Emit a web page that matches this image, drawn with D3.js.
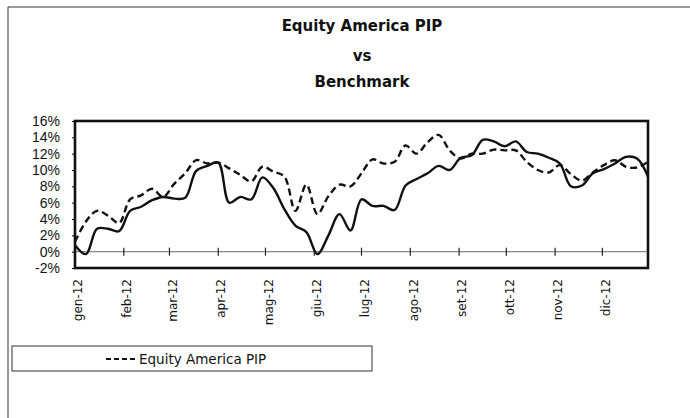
<!DOCTYPE html>
<html>
<head>
<meta charset="utf-8">
<script src="https://cdn.jsdelivr.net/npm/d3@7"></script>
<style>
  body { margin: 0; background: #fff; }
  text { fill: #111; }
</style>
</head>
<body>
<script>
// Weekly values, %
const fundValues = [
    1.2, 3.7, 5.0, 4.4, 3.5, 6.4, 6.9, 7.7, 6.7, 8.3,
    9.6, 11.2, 10.8, 10.9, 10.2, 9.4, 8.6, 10.4, 9.8, 9.2,
    5.0, 8.2, 4.6, 6.8, 8.2, 8.0, 9.6, 11.3, 10.8, 11.0,
    13.0, 12.0, 13.4, 14.3, 12.4, 11.4, 12.0, 12.0, 12.5, 12.4,
    12.4, 11.0, 10.0, 9.7, 10.6, 9.5, 8.7, 9.7, 10.6, 11.2,
    10.4, 10.3, 11.0
];
const benchValues = [
    0.8, -0.3, 2.8, 2.8, 2.5, 5.0, 5.5, 6.3, 6.7, 6.5,
    6.6, 9.9, 10.5, 10.9, 6.0, 6.7, 6.4, 9.1, 7.8, 5.2,
    3.2, 2.4, -0.3, 2.0, 4.6, 2.6, 6.4, 5.6, 5.6, 5.1,
    8.1, 8.9, 9.6, 10.5, 10.0, 11.5, 11.8, 13.7, 13.5, 12.9,
    13.5, 12.2, 12.0, 11.5, 10.8, 8.0, 8.1, 9.6, 10.1, 10.8,
    11.6, 11.4, 9.2
];
const monthLabels = ['gen', 'feb', 'mar', 'apr', 'mag', 'giu', 'lug', 'ago', 'set', 'ott', 'nov', 'dic'];
const yTicks = [-2, 0, 2, 4, 6, 8, 10, 12, 14, 16];
const titleLines = ['Equity America PIP', 'vs', 'Benchmark'];
const legendLabel = 'Equity America PIP';

// one point per week of 2012
const dates = d3.timeWeek.range(new Date(2012, 0, 1), new Date(2012, 11, 31));
const months = d3.timeMonth.range(new Date(2012, 0, 1), new Date(2012, 11, 31));

const width = 690;
const height = 418;
const plot = {left: 75, right: 648, top: 121, bottom: 268};

const svg = d3.select('body').append('svg')
    .attr('width', width)
    .attr('height', height);

// page frame (top and left edge)
svg.append('path')
    .attr('d', `M8,${height} L8,7 L${width},7`)
    .attr('fill', 'none')
    .attr('stroke', '#333')
    .attr('stroke-width', 1);

// title
svg.append('g')
    .selectAll('text')
    .data(titleLines)
    .join('text')
    .attr('x', 362)
    .attr('y', (d, i) => [31, 61, 87][i])
    .attr('text-anchor', 'middle')
    .attr('font-family', 'DejaVu Sans')
    .attr('font-weight', 'bold')
    .attr('font-size', 15)
    .text(d => d);

const x = d3.scaleTime()
    .domain(d3.extent(dates))
    .range([plot.left, plot.right]);

const y = d3.scaleLinear()
    .domain([-2, 16])
    .range([plot.bottom, plot.top]);

// zero line with month ticks
svg.append('line')
    .attr('x1', plot.left).attr('x2', plot.right)
    .attr('y1', y(0)).attr('y2', y(0))
    .attr('stroke', '#888')
    .attr('stroke-width', 1.2);

svg.append('g')
    .selectAll('line')
    .data(months.slice(1))
    .join('line')
    .attr('x1', d => x(d)).attr('x2', d => x(d))
    .attr('y1', y(0) - 4).attr('y2', y(0) + 4)
    .attr('stroke', '#222')
    .attr('stroke-width', 1.2);

// lines
const line = (vals) => d3.line()
    .x((d, i) => x(dates[i]))
    .y(d => y(d))
    .curve(d3.curveCatmullRom.alpha(0.5))(vals);

svg.append('path')
    .attr('d', line(benchValues))
    .attr('fill', 'none')
    .attr('stroke', '#111')
    .attr('stroke-width', 2.4)
    .attr('stroke-linejoin', 'round');

svg.append('path')
    .attr('d', line(fundValues))
    .attr('fill', 'none')
    .attr('stroke', '#111')
    .attr('stroke-width', 2.4)
    .attr('stroke-dasharray', '7,4');

// plot frame
svg.append('rect')
    .attr('x', plot.left)
    .attr('y', plot.top)
    .attr('width', plot.right - plot.left)
    .attr('height', plot.bottom - plot.top)
    .attr('fill', 'none')
    .attr('stroke', '#111')
    .attr('stroke-width', 2.6);

// Left axis
const yAxis = svg.append('g')
    .attr('transform', `translate(${plot.left},0)`)
    .call(d3.axisLeft(y).tickValues(yTicks).tickSize(3).tickPadding(12).tickFormat(d => d + '%'));
yAxis.select('.domain').remove();
yAxis.selectAll('text')
    .attr('font-family', 'Liberation Sans')
    .attr('font-size', 14)
    .attr('fill', '#111');

// month labels
svg.append('g')
    .selectAll('text')
    .data(months)
    .join('text')
    .attr('transform', d => `translate(${x(d) + 3},279) rotate(-90)`)
    .attr('text-anchor', 'end')
    .attr('dy', '0.35em')
    .attr('font-family', 'DejaVu Sans')
    .attr('font-size', 12)
    .text((d, i) => monthLabels[i] + '-12');

// legend
const legend = svg.append('g');
legend.append('rect')
    .attr('x', 12).attr('y', 346)
    .attr('width', 360).attr('height', 25)
    .attr('fill', '#fff')
    .attr('stroke', '#333')
    .attr('stroke-width', 1);
legend.append('line')
    .attr('x1', 106).attr('x2', 137)
    .attr('y1', 359).attr('y2', 359)
    .attr('stroke', '#111')
    .attr('stroke-width', 2)
    .attr('stroke-dasharray', '5,3');
legend.append('text')
    .attr('x', 139).attr('y', 364)
    .attr('font-family', 'DejaVu Sans')
    .attr('font-size', 13.5)
    .text(legendLabel);
</script>
</body>
</html>
